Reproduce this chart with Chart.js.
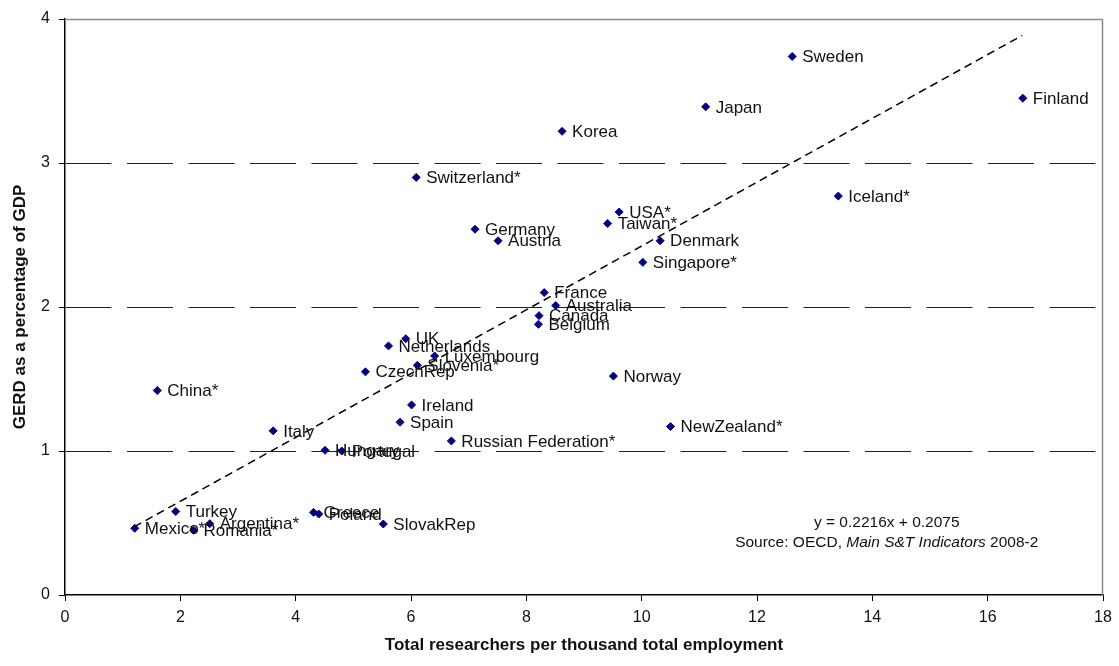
<!DOCTYPE html>
<html>
<head>
<meta charset="utf-8">
<script src="https://cdn.jsdelivr.net/npm/chart.js@4/dist/chart.umd.min.js"></script>
<style>
  html, body { margin: 0; padding: 0; background: #fff; }
  #wrap { width: 1119px; height: 666px; }
</style>
</head>
<body>
<div id="wrap"><canvas id="c" width="1119" height="666"></canvas></div>
<script>
// ---- data ----
const countries = ["Mexico*","Turkey","Romania*","Argentina*","China*","Italy","Hungary","Portugal","Greece","Poland","SlovakRep","CzechRep","UK","Netherlands","Slovenia*","Luxembourg","Ireland","Spain","Russian Federation*","Norway","NewZealand*","Belgium","Canada","Australia","France","Germany","Austria","Switzerland*","Korea","USA*","Taiwan*","Denmark","Singapore*","Japan","Sweden","Finland","Iceland*"];
const researchers = [1.21,1.92,2.23,2.51,1.60,3.61,4.51,4.80,4.31,4.40,5.52,5.21,5.91,5.61,6.11,6.41,6.01,5.81,6.70,9.51,10.50,8.21,8.22,8.51,8.31,7.11,7.51,6.09,8.62,9.61,9.41,10.32,10.02,11.11,12.61,16.61,13.41];
const gerd = [0.463,0.58,0.45,0.495,1.42,1.14,1.005,1.0,0.574,0.5625,0.493,1.55,1.78,1.73,1.595,1.66,1.32,1.20,1.07,1.52,1.17,1.88,1.94,2.01,2.10,2.54,2.46,2.90,3.22,2.66,2.58,2.46,2.31,3.39,3.74,3.45,2.77];
const xTicks = [0,2,4,6,8,10,12,14,16,18];
const yTicks = [0,1,2,3,4];
const trendSlope = 0.2216;
const trendIntercept = 0.2075;
const trendXRange = [1.2, 16.6];
const equationText = "y = 0.2216x + 0.2075";
const sourcePrefix = "Source: OECD, ";
const sourceItalic = "Main S&T Indicators";
const sourceSuffix = " 2008-2";
const xTitle = "Total researchers per thousand total employment";
const yTitle = "GERD as a percentage of GDP";

const points = researchers.map((x, i) => ({ x: x, y: gerd[i] }));
const trend = trendXRange.map(x => ({ x: x, y: trendSlope * x + trendIntercept }));

const FONT = "'Liberation Sans', Arial, Helvetica, sans-serif";

const labelPlugin = {
  id: 'pointLabels',
  afterDatasetsDraw(chart) {
    const ctx = chart.ctx;
    const meta = chart.getDatasetMeta(1);
    ctx.save();
    ctx.font = "17px " + FONT;
    ctx.fillStyle = "#111";
    ctx.textAlign = "left";
    ctx.textBaseline = "middle";
    meta.data.forEach((pt, i) => {
      ctx.fillText(countries[i], pt.x + 10, pt.y + 1);
    });
    ctx.restore();
  }
};

const framePlugin = {
  id: 'frame',
  beforeDatasetsDraw(chart) {
    const {ctx, chartArea: a} = chart;
    ctx.save();
    ctx.strokeStyle = "#8c8c8c";
    ctx.lineWidth = 1.5;
    ctx.beginPath();
    ctx.moveTo(a.left, a.top + 0.5);
    ctx.lineTo(a.right - 0.5, a.top + 0.5);
    ctx.lineTo(a.right - 0.5, a.bottom);
    ctx.stroke();
    ctx.restore();
  },
  afterDraw(chart) {
    const {ctx, scales} = chart;
    const cx = scales.x.getPixelForValue(14.25);
    const y1 = scales.y.getPixelForValue(0.50);
    const y2 = scales.y.getPixelForValue(0.365);
    const size = 15.5;
    ctx.save();
    ctx.fillStyle = "#111";
    ctx.textBaseline = "middle";
    ctx.font = size + "px " + FONT;
    ctx.textAlign = "center";
    ctx.fillText(equationText, cx, y1);
    // second line with italic part
    const fN = size + "px " + FONT, fI = "italic " + size + "px " + FONT;
    ctx.font = fN; const w1 = ctx.measureText(sourcePrefix).width; const w3 = ctx.measureText(sourceSuffix).width;
    ctx.font = fI; const w2 = ctx.measureText(sourceItalic).width;
    let x0 = cx - (w1 + w2 + w3) / 2;
    ctx.textAlign = "left";
    ctx.font = fN; ctx.fillText(sourcePrefix, x0, y2);
    ctx.font = fI; ctx.fillText(sourceItalic, x0 + w1, y2);
    ctx.font = fN; ctx.fillText(sourceSuffix, x0 + w1 + w2, y2);
    ctx.restore();
  }
};

new Chart(document.getElementById('c'), {
  type: 'scatter',
  data: {
    datasets: [
      {
        type: 'line',
        data: trend,
        borderColor: '#000',
        borderWidth: 1.5,
        borderDash: [8, 5],
        pointRadius: 0,
        fill: false,
        order: 2
      },
      {
        data: points,
        pointStyle: 'rectRot',
        pointRadius: 4,
        pointHoverRadius: 4,
        backgroundColor: '#000080',
        borderColor: '#000080',
        borderWidth: 1,
        order: 1
      }
    ]
  },
  options: {
    responsive: false,
    animation: false,
    devicePixelRatio: 1,
    layout: { padding: { left: 0, right: 16, top: 19, bottom: 0 } },
    plugins: { legend: { display: false }, tooltip: { enabled: false } },
    scales: {
      x: {
        type: 'linear',
        min: 0, max: 18,
        afterBuildTicks(s) { s.ticks = xTicks.map(v => ({ value: v })); },
        afterFit(s) { s.height = 71; },
        ticks: { font: { family: FONT, size: 16 }, color: '#111', padding: 7, maxRotation: 0 },
        grid: { drawOnChartArea: false, drawTicks: true, tickLength: 6, tickColor: '#000', tickWidth: 1 },
        border: { display: true, color: '#000', width: 1.5 },
        title: { display: true, text: xTitle, color: '#111', font: { family: FONT, size: 17, weight: 'bold' }, padding: { top: 0, bottom: 10 } }
      },
      y: {
        type: 'linear',
        min: 0, max: 4,
        afterBuildTicks(s) { s.ticks = yTicks.map(v => ({ value: v })); },
        afterFit(s) { s.width = 65; },
        ticks: { font: { family: FONT, size: 16 }, color: '#111', padding: 9 },
        grid: {
          color: ctx => (ctx.tick && (ctx.tick.value === 0 || ctx.tick.value === 4)) ? 'rgba(0,0,0,0)' : '#222',
          lineWidth: 1,
          drawTicks: true, tickLength: 6, tickColor: '#000', tickWidth: 1
        },
        border: { display: true, color: '#000', width: 1.5, dash: [46, 15.5] },
        title: { display: true, text: yTitle, color: '#111', font: { family: FONT, size: 17, weight: 'bold' }, padding: { top: 10, bottom: 0 } }
      }
    }
  },
  plugins: [labelPlugin, framePlugin]
});
</script>
</body>
</html>
